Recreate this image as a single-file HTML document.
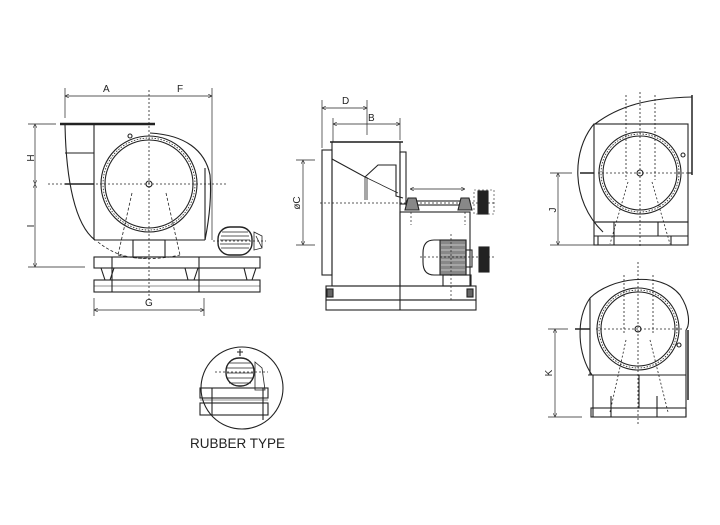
<!DOCTYPE html>
<html><head><meta charset="utf-8"><style>
html,body{margin:0;padding:0;background:#fff;width:720px;height:525px;overflow:hidden}
svg{display:block}
text{font-family:"Liberation Sans",sans-serif;fill:#222}
</style></head><body>
<svg width="720" height="525" viewBox="0 0 720 525" xmlns="http://www.w3.org/2000/svg">
<defs>
<marker id="ar" markerWidth="6" markerHeight="6" refX="6" refY="3" orient="auto-start-reverse"><path d="M0,0 L6,3 L0,6" fill="none" stroke="#333" stroke-width="0.8"/></marker>
</defs>
<g fill="none" stroke="#222" stroke-width="1.1">
<!-- LEFT VIEW -->
<line x1="65" y1="96" x2="212" y2="96" marker-start="url(#ar)" marker-end="url(#ar)" stroke-width="0.7"/>
<line x1="65" y1="88" x2="65" y2="118" stroke-width="0.7"/>
<line x1="212" y1="88" x2="212" y2="240" stroke-width="0.7"/>
<line x1="149" y1="90" x2="149" y2="300" stroke-dasharray="2,2" stroke-width="0.8"/>
<line x1="48" y1="184" x2="228" y2="184" stroke-dasharray="2,2" stroke-width="0.8"/>
<line x1="60" y1="124" x2="155" y2="124" stroke-width="2.5"/>
<path d="M65,124 C66,180 75,225 95,240"/>
<line x1="94" y1="124" x2="94" y2="240"/>
<line x1="65" y1="153" x2="94" y2="153"/>
<line x1="65" y1="184" x2="94" y2="184" stroke-width="1.5"/>
<path d="M150,133 C185,135 205,150 210,175 C212,200 208,225 205,240"/>
<line x1="205" y1="168" x2="205" y2="240"/>
<line x1="94" y1="240" x2="205" y2="240"/>
<circle cx="149" cy="184" r="48"/>
<circle cx="149" cy="184" r="44"/>
<circle cx="149" cy="184" r="46" stroke-dasharray="1.5,1.5" stroke-width="0.8"/>
<circle cx="149" cy="184" r="3"/>
<circle cx="130" cy="136" r="2"/>
<path d="M132,193 L118,255 M166,193 L180,255 M118,255 Q149,262 180,255" stroke-dasharray="3,2" stroke-width="0.8"/>
<path d="M98,242 Q120,260 149,258" stroke-dasharray="3,2" stroke-width="0.8"/>
<rect x="133" y="240" width="32" height="17"/>
<rect x="94" y="257" width="166" height="11"/>
<rect x="94" y="280" width="166" height="12"/>
<line x1="94" y1="286" x2="260" y2="286" stroke-width="0.6"/>
<path d="M101,268 L105,280 L110,280 L114,268 M185,268 L188,280 L194,280 L198,268 M244,268 L247,280 L252,280 L256,268"/>
<line x1="112" y1="257" x2="112" y2="292"/><line x1="199" y1="257" x2="199" y2="292"/>
<rect x="218" y="227" width="34" height="28" rx="12" stroke-width="1.4"/>
<path d="M222,232 H248 M221,236 H249 M220,240 H250 M220,244 H250 M221,248 H249" stroke-width="0.8"/>
<path d="M254,232 L262,236 L262,248 L254,250 Z M256,236 L262,248" stroke-width="0.8"/>
<line x1="213" y1="241" x2="266" y2="241" stroke-dasharray="2,2" stroke-width="0.7"/>
<line x1="35" y1="124" x2="35" y2="184" marker-start="url(#ar)" marker-end="url(#ar)" stroke-width="0.7"/>
<line x1="35" y1="184" x2="35" y2="267" marker-start="url(#ar)" marker-end="url(#ar)" stroke-width="0.7"/>
<line x1="28" y1="124" x2="56" y2="124" stroke-width="0.7"/>
<line x1="28" y1="267" x2="85" y2="267" stroke-width="0.7"/>
<line x1="94" y1="310" x2="204" y2="310" marker-start="url(#ar)" marker-end="url(#ar)" stroke-width="0.7"/>
<line x1="94" y1="298" x2="94" y2="316" stroke-width="0.7"/>
<line x1="204" y1="298" x2="204" y2="316" stroke-width="0.7"/>

<!-- MIDDLE VIEW -->
<line x1="322" y1="108" x2="367" y2="108" marker-start="url(#ar)" marker-end="url(#ar)" stroke-width="0.7"/>
<line x1="322" y1="100" x2="322" y2="148" stroke-width="0.7"/>
<line x1="367" y1="100" x2="367" y2="135" stroke-width="0.7"/>
<line x1="333" y1="124" x2="400" y2="124" marker-start="url(#ar)" marker-end="url(#ar)" stroke-width="0.7"/>
<line x1="333" y1="118" x2="333" y2="142" stroke-width="0.7"/>
<line x1="400" y1="118" x2="400" y2="140" stroke-width="0.7"/>
<rect x="332" y="142" width="68" height="144"/>
<line x1="330" y1="142" x2="403" y2="142" stroke-width="1.5"/>
<rect x="322" y="150" width="10" height="125"/>
<path d="M332,159 L365,177 L378,165 L396,165 L396,196 L403,198"/>
<path d="M365,177 V200 M367,177 V200 M365,177 L398,193" stroke-width="0.8"/>
<line x1="303" y1="160" x2="303" y2="245" marker-start="url(#ar)" marker-end="url(#ar)" stroke-width="0.7"/>
<line x1="296" y1="160" x2="315" y2="160" stroke-width="0.7"/>
<line x1="296" y1="245" x2="315" y2="245" stroke-width="0.7"/>
<line x1="320" y1="203" x2="495" y2="203" stroke-dasharray="2,2" stroke-width="0.8"/>
<rect x="400" y="152" width="6" height="52"/>
<rect x="400" y="212" width="70" height="74"/>
<line x1="410" y1="189" x2="465" y2="189" marker-start="url(#ar)" marker-end="url(#ar)" stroke-width="0.7"/>
<rect x="406" y="201" width="64" height="4"/>
<path d="M405,210 L408,198 L416,198 L419,210 Z" fill="#888"/>
<path d="M458,210 L461,198 L469,198 L472,210 Z" fill="#888"/>
<rect x="478" y="191" width="10" height="23" fill="#222"/>
<rect x="474" y="190" width="20" height="24" stroke-dasharray="2,2" stroke-width="0.6"/>
<line x1="411" y1="212" x2="411" y2="225" stroke-dasharray="2,2" stroke-width="0.7"/>
<line x1="465" y1="212" x2="465" y2="225" stroke-dasharray="2,2" stroke-width="0.7"/>
<path d="M434,240 H466 V275 H434 Q423,275 423,262 V253 Q423,240 434,240 Z"/>
<rect x="440" y="240" width="26" height="35" fill="#888"/>
<path d="M441,245 H465 M441,250 H465 M441,255 H465 M441,260 H465 M441,265 H465 M441,270 H465" stroke="#fff" stroke-width="0.6"/>
<rect x="466" y="250" width="6" height="17"/>
<rect x="479" y="247" width="10" height="25" fill="#222"/>
<line x1="420" y1="257" x2="495" y2="257" stroke-dasharray="2,2" stroke-width="0.7"/>
<line x1="451" y1="234" x2="451" y2="300" stroke-dasharray="2,2" stroke-width="0.7"/>
<rect x="443" y="275" width="28" height="11"/>
<rect x="326" y="286" width="150" height="14"/>
<rect x="326" y="300" width="150" height="10"/>
<line x1="400" y1="286" x2="400" y2="310"/>
<rect x="327" y="289" width="6" height="8" fill="#666"/>
<rect x="467" y="289" width="6" height="8" fill="#666"/>

<!-- RIGHT TOP -->
<path d="M595,124 C620,105 650,98 692,97"/>
<line x1="692" y1="95" x2="692" y2="175" stroke-width="1.5"/>
<rect x="594" y="124" width="94" height="98"/>
<path d="M594,124 C572,150 570,200 603,232"/>
<line x1="580" y1="173" x2="594" y2="173" stroke-width="1.5"/>
<line x1="688" y1="173" x2="692" y2="173"/>
<circle cx="640" cy="173" r="41"/>
<circle cx="640" cy="173" r="37"/>
<circle cx="640" cy="173" r="39" stroke-dasharray="1.5,1.5" stroke-width="0.8"/>
<circle cx="640" cy="173" r="3"/>
<circle cx="683" cy="155" r="2"/>
<line x1="640" y1="92" x2="640" y2="248" stroke-dasharray="2,2" stroke-width="0.8"/>
<line x1="626" y1="95" x2="626" y2="180" stroke-dasharray="2,2" stroke-width="0.8"/>
<line x1="655" y1="95" x2="655" y2="180" stroke-dasharray="2,2" stroke-width="0.8"/>
<line x1="598" y1="173" x2="688" y2="173" stroke-dasharray="2,2" stroke-width="0.8"/>
<path d="M628,182 L610,244 M652,182 L670,244" stroke-dasharray="2,2" stroke-width="0.8"/>
<rect x="594" y="222" width="94" height="23"/>
<line x1="594" y1="236" x2="688" y2="236"/>
<line x1="614" y1="222" x2="614" y2="245"/><line x1="658" y1="222" x2="658" y2="236"/>
<line x1="671" y1="236" x2="671" y2="245"/><line x1="598" y1="236" x2="598" y2="245"/>
<line x1="558" y1="173" x2="558" y2="245" marker-start="url(#ar)" marker-end="url(#ar)" stroke-width="0.7"/>
<line x1="550" y1="173" x2="572" y2="173" stroke-width="0.7"/>
<line x1="550" y1="245" x2="594" y2="245" stroke-width="0.7"/>

<!-- RIGHT BOTTOM -->
<path d="M590,298 C610,278 660,270 680,295 C690,310 690,325 686,330"/>
<path d="M590,298 C575,320 578,355 592,375"/>
<line x1="590" y1="298" x2="590" y2="375"/>
<line x1="588" y1="375" x2="686" y2="375"/>
<line x1="686" y1="330" x2="686" y2="417"/>
<line x1="688" y1="330" x2="688" y2="400" stroke-width="1.5"/>
<line x1="575" y1="329" x2="590" y2="329" stroke-width="1.5"/>
<circle cx="638" cy="329" r="41"/>
<circle cx="638" cy="329" r="37"/>
<circle cx="638" cy="329" r="39" stroke-dasharray="1.5,1.5" stroke-width="0.8"/>
<circle cx="638" cy="329" r="3"/>
<circle cx="679" cy="345" r="2"/>
<line x1="638" y1="262" x2="638" y2="425" stroke-dasharray="2,2" stroke-width="0.8"/>
<line x1="624" y1="275" x2="624" y2="335" stroke-dasharray="2,2" stroke-width="0.8"/>
<line x1="653" y1="275" x2="653" y2="335" stroke-dasharray="2,2" stroke-width="0.8"/>
<line x1="596" y1="329" x2="684" y2="329" stroke-dasharray="2,2" stroke-width="0.8"/>
<path d="M626,340 L610,412 M650,340 L668,412" stroke-dasharray="2,2" stroke-width="0.8"/>
<line x1="639" y1="375" x2="639" y2="408"/>
<line x1="593" y1="375" x2="593" y2="417"/>
<rect x="591" y="408" width="95" height="9"/>
<line x1="611" y1="396" x2="611" y2="417"/><line x1="657" y1="396" x2="657" y2="417"/>
<line x1="555" y1="329" x2="555" y2="417" marker-start="url(#ar)" marker-end="url(#ar)" stroke-width="0.7"/>
<line x1="548" y1="329" x2="568" y2="329" stroke-width="0.7"/>
<line x1="548" y1="417" x2="582" y2="417" stroke-width="0.7"/>

<!-- RUBBER TYPE -->
<circle cx="242" cy="388" r="41"/>
<rect x="226" y="358" width="28" height="28" rx="13" stroke-width="1.4"/>
<path d="M229,363 H251 M227,368 H253 M227,373 H253 M227,378 H253 M229,383 H251" stroke-width="0.7"/>
<path d="M255,362 L262,368 L265,390 L255,390 Z" stroke-width="0.8"/>
<line x1="215" y1="372" x2="268" y2="372" stroke-dasharray="2,2" stroke-width="0.7"/>
<path d="M240,349 L240,356 M237,352 H243"/>
<rect x="200" y="388" width="68" height="10"/>
<rect x="200" y="403" width="68" height="12"/>
<line x1="200" y1="400" x2="268" y2="400" stroke-width="0.6"/>
<line x1="212" y1="388" x2="212" y2="415"/>
<line x1="263" y1="388" x2="263" y2="420"/>
</g>
<g font-size="10">
<text x="103" y="92">A</text>
<text x="177" y="92">F</text>
<text x="145" y="306">G</text>
<text x="342" y="104">D</text>
<text x="368" y="121">B</text>
<text x="0" y="0" transform="translate(34,158) rotate(-90)" text-anchor="middle">H</text>
<text x="0" y="0" transform="translate(34,226) rotate(-90)" text-anchor="middle">I</text>
<text x="0" y="0" transform="translate(300,203) rotate(-90)" text-anchor="middle">øC</text>
<text x="0" y="0" transform="translate(556,210) rotate(-90)" text-anchor="middle">J</text>
<text x="0" y="0" transform="translate(552,373) rotate(-90)" text-anchor="middle">K</text>
</g>
<text x="190" y="448" font-size="13.5">RUBBER TYPE</text>
</svg>
</body></html>
